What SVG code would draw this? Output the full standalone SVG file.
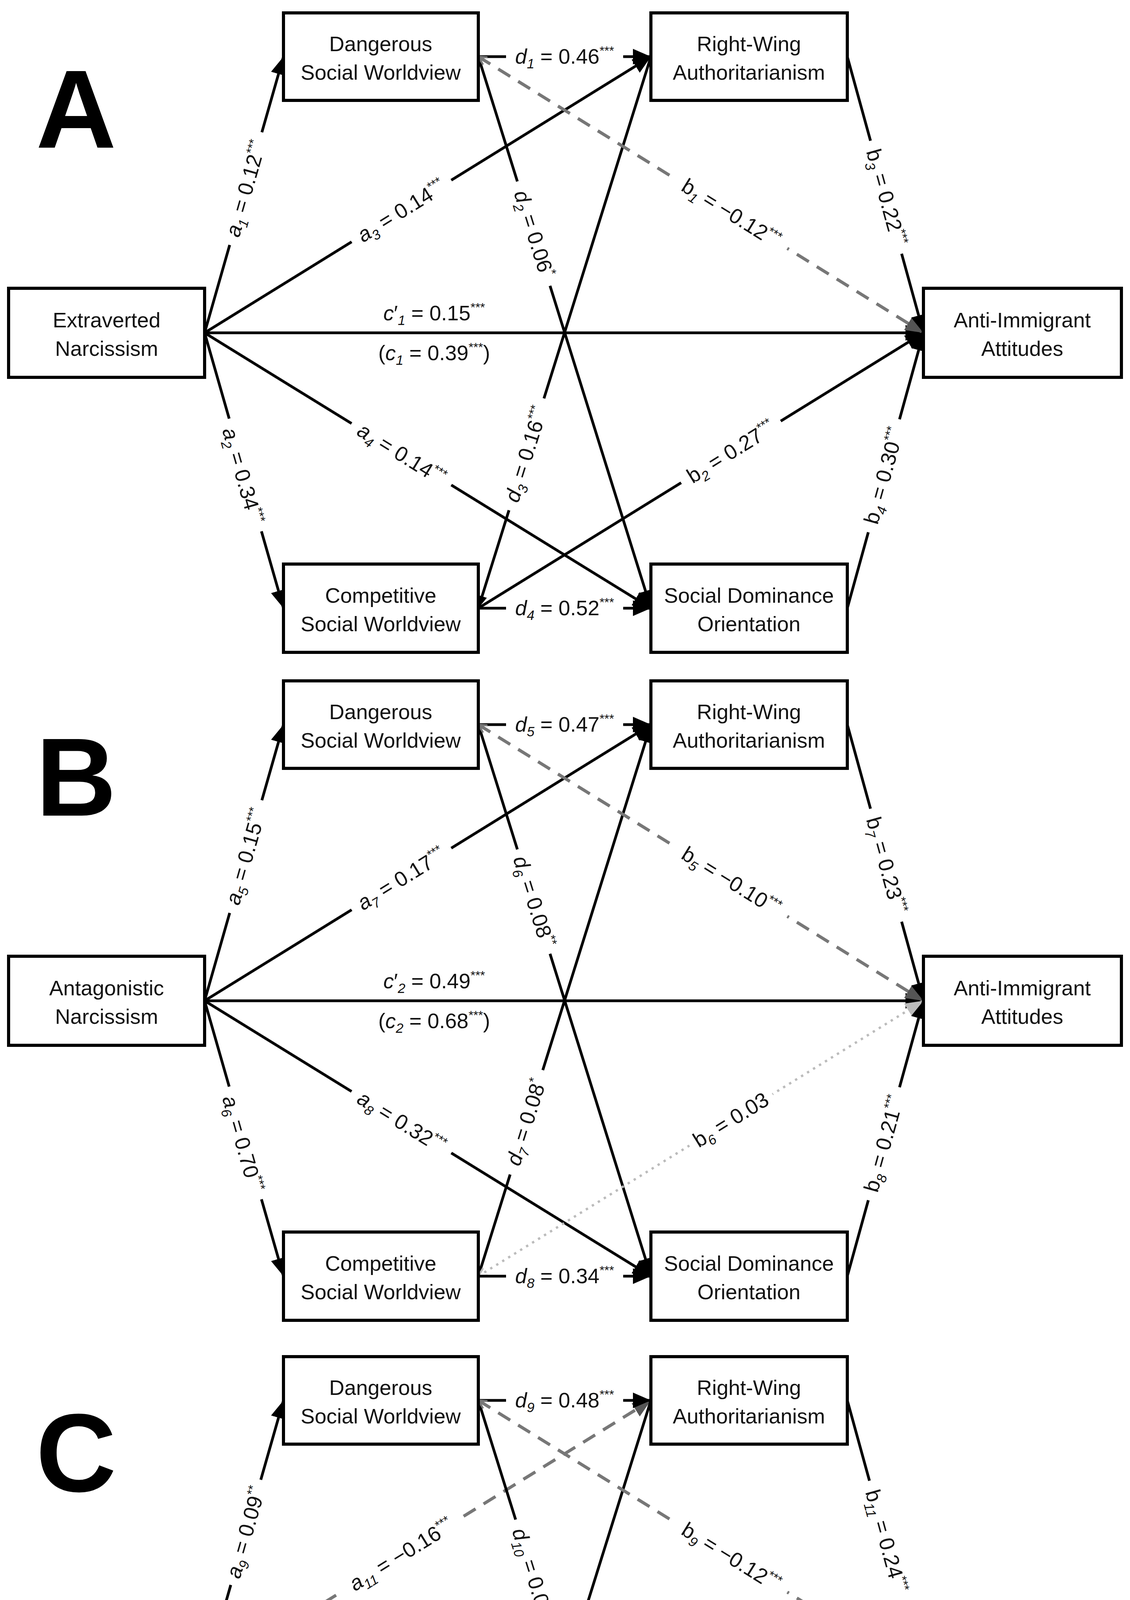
<svg xmlns="http://www.w3.org/2000/svg" width="2894" height="5138" viewBox="0 0 2894 5138">
<defs>
<style>
.bg{fill:#fff}
.gap{fill:#fff}
.box{fill:#fff;stroke:#000;stroke-width:8}
.nt{font-family:"Liberation Sans",Arial,sans-serif;font-size:54px;text-anchor:middle;fill:#111}
.lab{font-family:"Liberation Sans",Arial,sans-serif;font-size:54px;text-anchor:middle;fill:#111}
.i{font-style:italic}
.sb{font-size:35px;font-style:italic}
.sp{font-size:32px}
.big{font-family:"Liberation Sans",Arial,sans-serif;font-weight:bold;font-size:285px;fill:#000}
.s{stroke:#000;stroke-width:7;fill:none}
.d{stroke:#777;stroke-width:8;stroke-dasharray:36 24;fill:none}
.o{stroke:#bbb;stroke-width:6;stroke-dasharray:6 12;fill:none}
</style>
<marker id="ah" markerUnits="userSpaceOnUse" viewBox="0 0 50 44" markerWidth="50" markerHeight="44" refX="46" refY="22" orient="auto"><path d="M0,2 L46,22 L0,42 z" fill="#000"/></marker>
<marker id="am" markerUnits="userSpaceOnUse" viewBox="0 0 34 30" markerWidth="34" markerHeight="30" refX="32" refY="15" orient="auto"><path d="M0,2 L32,15 L0,28 z" fill="#000"/></marker>
<marker id="ahg" markerUnits="userSpaceOnUse" viewBox="0 0 50 44" markerWidth="50" markerHeight="44" refX="46" refY="22" orient="auto"><path d="M0,2 L46,22 L0,42 z" fill="#555"/></marker>
<marker id="ahl" markerUnits="userSpaceOnUse" viewBox="0 0 50 44" markerWidth="50" markerHeight="44" refX="46" refY="22" orient="auto"><path d="M0,2 L46,22 L0,42 z" fill="#bbb"/></marker>
<marker id="sg" markerUnits="userSpaceOnUse" viewBox="0 0 26 26" markerWidth="26" markerHeight="26" refX="23" refY="13" orient="auto-start-reverse"><path d="M2,2 L23,13 L2,24" fill="none" stroke="#777" stroke-width="5"/></marker>
<marker id="sl" markerUnits="userSpaceOnUse" viewBox="0 0 26 26" markerWidth="26" markerHeight="26" refX="23" refY="13" orient="auto-start-reverse"><path d="M2,2 L23,13 L2,24" fill="none" stroke="#bbb" stroke-width="5"/></marker>
</defs>
<rect class="bg" x="0" y="0" width="2894" height="5138"/>

<!-- PANEL A -->
<g id="panelA">
<text class="big" x="92" y="378">A</text>
<g id="connectorsA">
<path class="s" d="M524,852 L726,145" marker-end="url(#ah)"/>
<path class="s" d="M524,852 L726,1557" marker-end="url(#ah)"/>
<path class="s" d="M524,852 L1667,145" marker-end="url(#ah)"/>
<path class="s" d="M524,852 L1667,1557" marker-end="url(#ah)"/>
<path class="s" d="M524,852 L2365,852" marker-end="url(#ah)"/>
<path class="s" d="M1225,145 L1667,145" marker-end="url(#ah)"/>
<path class="s" d="M1225,145 L1667,1557" marker-end="url(#ah)"/>
<path class="s" d="M1667,145 L1225,1557" marker-end="url(#am)"/>
<path class="d" d="M1225,145 L2365,852" marker-start="url(#sg)" marker-end="url(#ahg)"/>
<path class="s" d="M1225,1557 L2365,852" marker-end="url(#ah)"/>
<path class="s" d="M2170,145 L2365,852" marker-end="url(#ah)"/>
<path class="s" d="M2170,1557 L2365,852" marker-end="url(#ah)"/>
<path class="s" d="M1225,1557 L1667,1557" marker-end="url(#ah)"/>
<g transform="translate(630,483) rotate(-74.05)"><rect class="gap" x="-150" y="-34" width="300" height="68"/><text class="lab" y="18"><tspan class="i">a</tspan><tspan class="sb" dy="12">1</tspan><tspan dy="-12"> = 0.12</tspan><tspan class="sp" dy="-22">***</tspan></text></g>
<g transform="translate(621,1218) rotate(74.05)"><rect class="gap" x="-150" y="-34" width="300" height="68"/><text class="lab" y="18"><tspan class="i">a</tspan><tspan class="sb" dy="12">2</tspan><tspan dy="-12"> = 0.34</tspan><tspan class="sp" dy="-22">***</tspan></text></g>
<g transform="translate(1028,540) rotate(-31.74)"><rect class="gap" x="-150" y="-34" width="300" height="68"/><text class="lab" y="18"><tspan class="i">a</tspan><tspan class="sb" dy="12">3</tspan><tspan dy="-12"> = 0.14</tspan><tspan class="sp" dy="-22">***</tspan></text></g>
<g transform="translate(1028,1163) rotate(31.74)"><rect class="gap" x="-150" y="-34" width="300" height="68"/><text class="lab" y="18"><tspan class="i">a</tspan><tspan class="sb" dy="12">4</tspan><tspan dy="-12"> = 0.14</tspan><tspan class="sp" dy="-22">***</tspan></text></g>
<text class="lab" x="1112" y="820"><tspan class="i">c</tspan>′<tspan class="sb" dy="12">1</tspan><tspan dy="-12"> = 0.15</tspan><tspan class="sp" dy="-22">***</tspan></text>
<text class="lab" x="1112" y="922">(<tspan class="i">c</tspan><tspan class="sb" dy="12">1</tspan><tspan dy="-12"> = 0.39</tspan><tspan class="sp" dy="-22">***</tspan><tspan dy="22">)</tspan></text>
<g transform="translate(1446,145)"><rect class="gap" x="-150" y="-34" width="300" height="68"/><text class="lab" y="18"><tspan class="i">d</tspan><tspan class="sb" dy="12">1</tspan><tspan dy="-12"> = 0.46</tspan><tspan class="sp" dy="-22">***</tspan></text></g>
<g transform="translate(1367,598) rotate(72.62)"><rect class="gap" x="-140" y="-34" width="280" height="68"/><text class="lab" y="18"><tspan class="i">d</tspan><tspan class="sb" dy="12">2</tspan><tspan dy="-12"> = 0.06</tspan><tspan class="sp" dy="-22">*</tspan></text></g>
<g transform="translate(1348,1163) rotate(-72.62)"><rect class="gap" x="-150" y="-34" width="300" height="68"/><text class="lab" y="18"><tspan class="i">d</tspan><tspan class="sb" dy="12">3</tspan><tspan dy="-12"> = 0.16</tspan><tspan class="sp" dy="-22">***</tspan></text></g>
<g transform="translate(1446,1557)"><rect class="gap" x="-150" y="-34" width="300" height="68"/><text class="lab" y="18"><tspan class="i">d</tspan><tspan class="sb" dy="12">4</tspan><tspan dy="-12"> = 0.52</tspan><tspan class="sp" dy="-22">***</tspan></text></g>
<g transform="translate(1872,546) rotate(31.8)"><rect class="gap" x="-170" y="-34" width="340" height="68"/><text class="lab" y="18"><tspan>b</tspan><tspan class="sb" dy="12">1</tspan><tspan dy="-12"> = −0.12</tspan><tspan class="sp" dy="-22">***</tspan></text></g>
<g transform="translate(1872,1157) rotate(-31.74)"><rect class="gap" x="-150" y="-34" width="300" height="68"/><text class="lab" y="18"><tspan>b</tspan><tspan class="sb" dy="12">2</tspan><tspan dy="-12"> = 0.27</tspan><tspan class="sp" dy="-22">***</tspan></text></g>
<g transform="translate(2269,505) rotate(74.58)"><rect class="gap" x="-150" y="-34" width="300" height="68"/><text class="lab" y="18"><tspan>b</tspan><tspan class="sb" dy="12">3</tspan><tspan dy="-12"> = 0.22</tspan><tspan class="sp" dy="-22">***</tspan></text></g>
<g transform="translate(2264,1218) rotate(-74.5)"><rect class="gap" x="-150" y="-34" width="300" height="68"/><text class="lab" y="18"><tspan>b</tspan><tspan class="sb" dy="12">4</tspan><tspan dy="-12"> = 0.30</tspan><tspan class="sp" dy="-22">***</tspan></text></g>
</g>
<g id="A-extraverted"><rect class="box" x="22" y="738" width="502" height="228"/><text class="nt" x="273" y="838">Extraverted</text><text class="nt" x="273" y="911">Narcissism</text></g>
<g id="A-dangerous"><rect class="box" x="726" y="33" width="499" height="224"/><text class="nt" x="975" y="131">Dangerous</text><text class="nt" x="975" y="204">Social Worldview</text></g>
<g id="A-rwa"><rect class="box" x="1667" y="33" width="503" height="224"/><text class="nt" x="1918" y="131">Right-Wing</text><text class="nt" x="1918" y="204">Authoritarianism</text></g>
<g id="A-anti"><rect class="box" x="2365" y="738" width="507" height="228"/><text class="nt" x="2618" y="838">Anti-Immigrant</text><text class="nt" x="2618" y="911">Attitudes</text></g>
<g id="A-competitive"><rect class="box" x="726" y="1444" width="499" height="226"/><text class="nt" x="975" y="1543">Competitive</text><text class="nt" x="975" y="1616">Social Worldview</text></g>
<g id="A-sdo"><rect class="box" x="1667" y="1444" width="503" height="226"/><text class="nt" x="1918" y="1543">Social Dominance</text><text class="nt" x="1918" y="1616">Orientation</text></g>
</g>

<!-- PANEL B -->
<g id="panelB" transform="translate(0,1710)">
<text class="big" x="92" y="378">B</text>
<g id="connectorsB">
<path class="s" d="M524,852 L726,145" marker-end="url(#ah)"/>
<path class="s" d="M524,852 L726,1557" marker-end="url(#ah)"/>
<path class="s" d="M524,852 L1667,145" marker-end="url(#ah)"/>
<path class="s" d="M524,852 L1667,1557" marker-end="url(#ah)"/>
<path class="s" d="M524,852 L2365,852" marker-end="url(#ah)"/>
<path class="s" d="M1225,145 L1667,145" marker-end="url(#ah)"/>
<path class="s" d="M1225,145 L1667,1557" marker-end="url(#ah)"/>
<path class="s" d="M1225,1557 L1667,145" marker-end="url(#ah)"/>
<path class="d" d="M1225,145 L2365,852" marker-start="url(#sg)" marker-end="url(#ahg)"/>
<path class="o" d="M1225,1557 L2365,852" marker-start="url(#sl)" marker-end="url(#ahl)"/>
<path class="s" d="M2170,145 L2365,852" marker-end="url(#ah)"/>
<path class="s" d="M2170,1557 L2365,852" marker-end="url(#ah)"/>
<path class="s" d="M1225,1557 L1667,1557" marker-end="url(#ah)"/>
<g transform="translate(630,483) rotate(-74.05)"><rect class="gap" x="-150" y="-34" width="300" height="68"/><text class="lab" y="18"><tspan class="i">a</tspan><tspan class="sb" dy="12">5</tspan><tspan dy="-12"> = 0.15</tspan><tspan class="sp" dy="-22">***</tspan></text></g>
<g transform="translate(621,1218) rotate(74.05)"><rect class="gap" x="-150" y="-34" width="300" height="68"/><text class="lab" y="18"><tspan class="i">a</tspan><tspan class="sb" dy="12">6</tspan><tspan dy="-12"> = 0.70</tspan><tspan class="sp" dy="-22">***</tspan></text></g>
<g transform="translate(1028,540) rotate(-31.74)"><rect class="gap" x="-150" y="-34" width="300" height="68"/><text class="lab" y="18"><tspan class="i">a</tspan><tspan class="sb" dy="12">7</tspan><tspan dy="-12"> = 0.17</tspan><tspan class="sp" dy="-22">***</tspan></text></g>
<g transform="translate(1028,1163) rotate(31.74)"><rect class="gap" x="-150" y="-34" width="300" height="68"/><text class="lab" y="18"><tspan class="i">a</tspan><tspan class="sb" dy="12">8</tspan><tspan dy="-12"> = 0.32</tspan><tspan class="sp" dy="-22">***</tspan></text></g>
<text class="lab" x="1112" y="820"><tspan class="i">c</tspan>′<tspan class="sb" dy="12">2</tspan><tspan dy="-12"> = 0.49</tspan><tspan class="sp" dy="-22">***</tspan></text>
<text class="lab" x="1112" y="922">(<tspan class="i">c</tspan><tspan class="sb" dy="12">2</tspan><tspan dy="-12"> = 0.68</tspan><tspan class="sp" dy="-22">***</tspan><tspan dy="22">)</tspan></text>
<g transform="translate(1446,145)"><rect class="gap" x="-150" y="-34" width="300" height="68"/><text class="lab" y="18"><tspan class="i">d</tspan><tspan class="sb" dy="12">5</tspan><tspan dy="-12"> = 0.47</tspan><tspan class="sp" dy="-22">***</tspan></text></g>
<g transform="translate(1367,598) rotate(72.62)"><rect class="gap" x="-140" y="-34" width="280" height="68"/><text class="lab" y="18"><tspan class="i">d</tspan><tspan class="sb" dy="12">6</tspan><tspan dy="-12"> = 0.08</tspan><tspan class="sp" dy="-22">**</tspan></text></g>
<g transform="translate(1348,1163) rotate(-72.62)"><rect class="gap" x="-140" y="-34" width="280" height="68"/><text class="lab" y="18"><tspan class="i">d</tspan><tspan class="sb" dy="12">7</tspan><tspan dy="-12"> = 0.08</tspan><tspan class="sp" dy="-22">*</tspan></text></g>
<g transform="translate(1446,1557)"><rect class="gap" x="-150" y="-34" width="300" height="68"/><text class="lab" y="18"><tspan class="i">d</tspan><tspan class="sb" dy="12">8</tspan><tspan dy="-12"> = 0.34</tspan><tspan class="sp" dy="-22">***</tspan></text></g>
<g transform="translate(1872,546) rotate(31.8)"><rect class="gap" x="-170" y="-34" width="340" height="68"/><text class="lab" y="18"><tspan>b</tspan><tspan class="sb" dy="12">5</tspan><tspan dy="-12"> = −0.10</tspan><tspan class="sp" dy="-22">***</tspan></text></g>
<g transform="translate(1872,1157) rotate(-31.74)"><rect class="gap" x="-125" y="-34" width="250" height="68"/><text class="lab" y="18"><tspan>b</tspan><tspan class="sb" dy="12">6</tspan><tspan dy="-12"> = 0.03</tspan></text></g>
<g transform="translate(2269,505) rotate(74.58)"><rect class="gap" x="-150" y="-34" width="300" height="68"/><text class="lab" y="18"><tspan>b</tspan><tspan class="sb" dy="12">7</tspan><tspan dy="-12"> = 0.23</tspan><tspan class="sp" dy="-22">***</tspan></text></g>
<g transform="translate(2264,1218) rotate(-74.5)"><rect class="gap" x="-150" y="-34" width="300" height="68"/><text class="lab" y="18"><tspan>b</tspan><tspan class="sb" dy="12">8</tspan><tspan dy="-12"> = 0.21</tspan><tspan class="sp" dy="-22">***</tspan></text></g>
</g>
<g id="B-antagonistic"><rect class="box" x="22" y="738" width="502" height="228"/><text class="nt" x="273" y="838">Antagonistic</text><text class="nt" x="273" y="911">Narcissism</text></g>
<g id="B-dangerous"><rect class="box" x="726" y="33" width="499" height="224"/><text class="nt" x="975" y="131">Dangerous</text><text class="nt" x="975" y="204">Social Worldview</text></g>
<g id="B-rwa"><rect class="box" x="1667" y="33" width="503" height="224"/><text class="nt" x="1918" y="131">Right-Wing</text><text class="nt" x="1918" y="204">Authoritarianism</text></g>
<g id="B-anti"><rect class="box" x="2365" y="738" width="507" height="228"/><text class="nt" x="2618" y="838">Anti-Immigrant</text><text class="nt" x="2618" y="911">Attitudes</text></g>
<g id="B-competitive"><rect class="box" x="726" y="1444" width="499" height="226"/><text class="nt" x="975" y="1543">Competitive</text><text class="nt" x="975" y="1616">Social Worldview</text></g>
<g id="B-sdo"><rect class="box" x="1667" y="1444" width="503" height="226"/><text class="nt" x="1918" y="1543">Social Dominance</text><text class="nt" x="1918" y="1616">Orientation</text></g>
</g>

<!-- PANEL C -->
<g id="panelC" transform="translate(0,3440)">
<text class="big" x="92" y="378">C</text>
<g id="connectorsC">
<path class="s" d="M524,852 L726,145" marker-end="url(#ah)"/>
<path class="o" d="M524,852 L726,1557" marker-start="url(#sl)" marker-end="url(#ahl)"/>
<path class="d" d="M524,852 L1667,145" marker-start="url(#sg)" marker-end="url(#ahg)"/>
<path class="d" d="M524,852 L1667,1557" marker-start="url(#sg)" marker-end="url(#ahg)"/>
<path class="o" d="M524,852 L2365,852" marker-start="url(#sl)" marker-end="url(#ahl)"/>
<path class="s" d="M1225,145 L1667,145" marker-end="url(#ah)"/>
<path class="s" d="M1225,145 L1667,1557" marker-end="url(#ah)"/>
<path class="s" d="M1667,145 L1225,1557" marker-end="url(#am)"/>
<path class="d" d="M1225,145 L2365,852" marker-start="url(#sg)" marker-end="url(#ahg)"/>
<path class="s" d="M1225,1557 L2365,852" marker-end="url(#ah)"/>
<path class="s" d="M2170,145 L2365,852" marker-end="url(#ah)"/>
<path class="s" d="M2170,1557 L2365,852" marker-end="url(#ah)"/>
<path class="s" d="M1225,1557 L1667,1557" marker-end="url(#ah)"/>
<g transform="translate(630,483) rotate(-74.05)"><rect class="gap" x="-140" y="-34" width="280" height="68"/><text class="lab" y="18"><tspan class="i">a</tspan><tspan class="sb" dy="12">9</tspan><tspan dy="-12"> = 0.09</tspan><tspan class="sp" dy="-22">**</tspan></text></g>
<g transform="translate(621,1218) rotate(74.05)"><rect class="gap" x="-150" y="-34" width="300" height="68"/><text class="lab" y="18"><tspan class="i">a</tspan><tspan class="sb" dy="12">10</tspan><tspan dy="-12"> = −0.03</tspan></text></g>
<g transform="translate(1028,540) rotate(-31.74)"><rect class="gap" x="-180" y="-34" width="360" height="68"/><text class="lab" y="18"><tspan class="i">a</tspan><tspan class="sb" dy="12">11</tspan><tspan dy="-12"> = −0.16</tspan><tspan class="sp" dy="-22">***</tspan></text></g>
<g transform="translate(1028,1163) rotate(31.74)"><rect class="gap" x="-180" y="-34" width="360" height="68"/><text class="lab" y="18"><tspan class="i">a</tspan><tspan class="sb" dy="12">12</tspan><tspan dy="-12"> = −0.12</tspan><tspan class="sp" dy="-22">***</tspan></text></g>
<text class="lab" x="1112" y="820"><tspan class="i">c</tspan>′<tspan class="sb" dy="12">3</tspan><tspan dy="-12"> = −0.04</tspan></text>
<text class="lab" x="1112" y="922">(<tspan class="i">c</tspan><tspan class="sb" dy="12">3</tspan><tspan dy="-12"> = −0.13</tspan><tspan class="sp" dy="-22">***</tspan><tspan dy="22">)</tspan></text>
<g transform="translate(1446,145)"><rect class="gap" x="-150" y="-34" width="300" height="68"/><text class="lab" y="18"><tspan class="i">d</tspan><tspan class="sb" dy="12">9</tspan><tspan dy="-12"> = 0.48</tspan><tspan class="sp" dy="-22">***</tspan></text></g>
<g transform="translate(1367,598) rotate(72.62)"><rect class="gap" x="-155" y="-34" width="310" height="68"/><text class="lab" y="18"><tspan class="i">d</tspan><tspan class="sb" dy="12">10</tspan><tspan dy="-12"> = 0.08</tspan><tspan class="sp" dy="-22">**</tspan></text></g>
<g transform="translate(1348,1163) rotate(-72.62)"><rect class="gap" x="-160" y="-34" width="320" height="68"/><text class="lab" y="18"><tspan class="i">d</tspan><tspan class="sb" dy="12">11</tspan><tspan dy="-12"> = 0.20</tspan><tspan class="sp" dy="-22">***</tspan></text></g>
<g transform="translate(1446,1557)"><rect class="gap" x="-160" y="-34" width="320" height="68"/><text class="lab" y="18"><tspan class="i">d</tspan><tspan class="sb" dy="12">12</tspan><tspan dy="-12"> = 0.56</tspan><tspan class="sp" dy="-22">***</tspan></text></g>
<g transform="translate(1872,546) rotate(31.8)"><rect class="gap" x="-170" y="-34" width="340" height="68"/><text class="lab" y="18"><tspan>b</tspan><tspan class="sb" dy="12">9</tspan><tspan dy="-12"> = −0.12</tspan><tspan class="sp" dy="-22">***</tspan></text></g>
<g transform="translate(1872,1157) rotate(-31.74)"><rect class="gap" x="-160" y="-34" width="320" height="68"/><text class="lab" y="18"><tspan>b</tspan><tspan class="sb" dy="12">10</tspan><tspan dy="-12"> = 0.31</tspan><tspan class="sp" dy="-22">***</tspan></text></g>
<g transform="translate(2269,505) rotate(74.58)"><rect class="gap" x="-160" y="-34" width="320" height="68"/><text class="lab" y="18"><tspan>b</tspan><tspan class="sb" dy="12">11</tspan><tspan dy="-12"> = 0.24</tspan><tspan class="sp" dy="-22">***</tspan></text></g>
<g transform="translate(2264,1218) rotate(-74.5)"><rect class="gap" x="-160" y="-34" width="320" height="68"/><text class="lab" y="18"><tspan>b</tspan><tspan class="sb" dy="12">12</tspan><tspan dy="-12"> = 0.32</tspan><tspan class="sp" dy="-22">***</tspan></text></g>
</g>
<g id="C-neurotic"><rect class="box" x="22" y="738" width="502" height="228"/><text class="nt" x="273" y="838">Neurotic</text><text class="nt" x="273" y="911">Narcissism</text></g>
<g id="C-dangerous"><rect class="box" x="726" y="33" width="499" height="224"/><text class="nt" x="975" y="131">Dangerous</text><text class="nt" x="975" y="204">Social Worldview</text></g>
<g id="C-rwa"><rect class="box" x="1667" y="33" width="503" height="224"/><text class="nt" x="1918" y="131">Right-Wing</text><text class="nt" x="1918" y="204">Authoritarianism</text></g>
<g id="C-anti"><rect class="box" x="2365" y="738" width="507" height="228"/><text class="nt" x="2618" y="838">Anti-Immigrant</text><text class="nt" x="2618" y="911">Attitudes</text></g>
<g id="C-competitive"><rect class="box" x="726" y="1444" width="499" height="226"/><text class="nt" x="975" y="1543">Competitive</text><text class="nt" x="975" y="1616">Social Worldview</text></g>
<g id="C-sdo"><rect class="box" x="1667" y="1444" width="503" height="226"/><text class="nt" x="1918" y="1543">Social Dominance</text><text class="nt" x="1918" y="1616">Orientation</text></g>
</g>
</svg>
